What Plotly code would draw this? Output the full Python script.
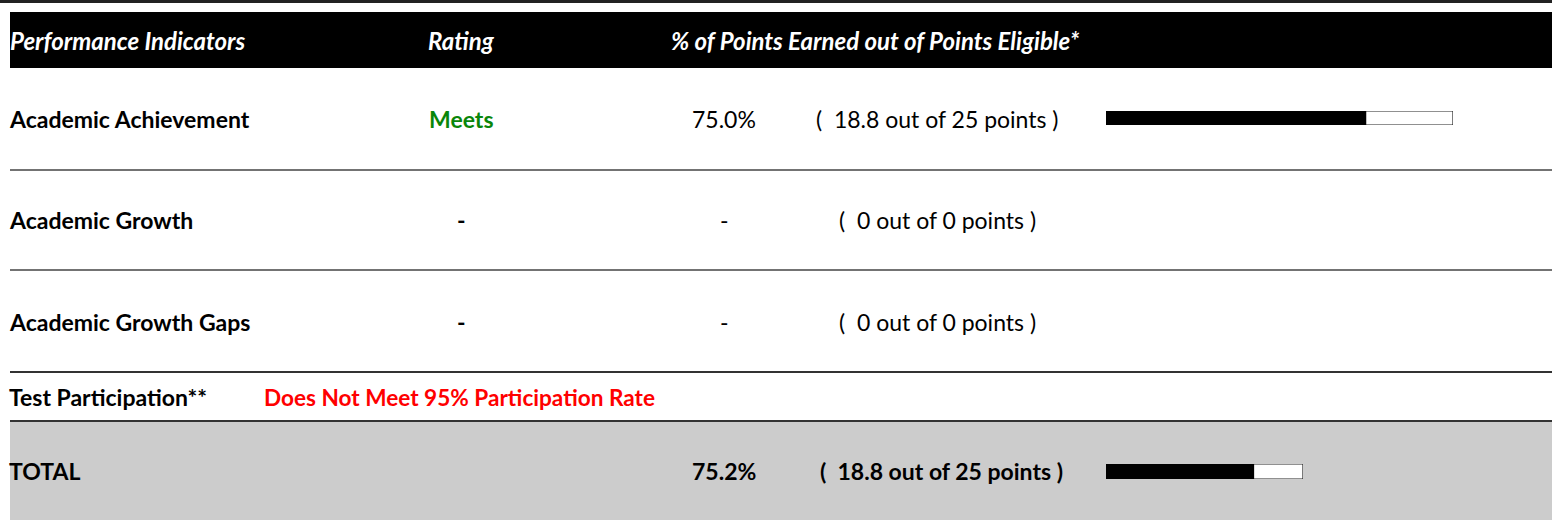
import plotly.graph_objects as go

# ---------------- data ----------------
header_labels = ["Performance Indicators", "Rating", "% of Points Earned out of Points Eligible*"]
indicators = ["Academic Achievement", "Academic Growth", "Academic Growth Gaps"]
ratings = ["Meets", "-", "-"]
rating_colors = ["#0a860a", "#000000", "#000000"]
pct_values = [75.0, None, None]
points_earned = [18.8, 0, 0]
points_eligible = [25, 0, 0]
participation_label = "Test Participation**"
participation_rating = "Does Not Meet 95% Participation Rate"
total_label = "TOTAL"
total_pct = 75.2
total_earned = 18.8
total_eligible = 25

# ---------------- layout constants ----------------
W, H = 1552, 520
FONT = "Lato"
FS = 23
HFS = 24
row_y = [119, 220, 322]
part_y = 397
total_y = 471
col_x = {"ind": 7, "rating": 461, "pct": 724, "pts": 937}

fig = go.Figure()

annotations = []
def txt(x, y, s, color="#000", bold=False, italic=False, anchor="left", size=FS):
    t = s
    if bold:
        t = "<b>" + t + "</b>"
    if italic:
        t = "<i>" + t + "</i>"
    annotations.append(dict(x=x, y=y, xref="x", yref="y", text=t, showarrow=False,
                            xanchor=anchor, yanchor="middle",
                            font=dict(family=FONT, size=size, color=color)))

# header
txt(8, 40, header_labels[0], "#fff", True, True, size=HFS)
txt(col_x["rating"], 40, header_labels[1], "#fff", True, True, "center", size=HFS)
txt(669, 40, header_labels[2], "#fff", True, True, size=HFS)

def fmt(v):
    return f"{v:g}"

for i, name in enumerate(indicators):
    y = row_y[i]
    txt(col_x["ind"], y, name, bold=True)
    txt(col_x["rating"], y, ratings[i], rating_colors[i], bold=True, anchor="center")
    p = pct_values[i]
    txt(col_x["pct"], y, "-" if p is None else f"{p:.1f}%", anchor="center")
    txt(col_x["pts"], y, f"(  {fmt(points_earned[i])} out of {fmt(points_eligible[i])} points )", anchor="center")

txt(col_x["ind"], part_y, participation_label, bold=True)
txt(262, part_y, participation_rating, "#ff0000", bold=True, size=22.6)

txt(col_x["ind"], total_y, total_label, bold=True)
txt(col_x["pct"], total_y, f"{total_pct:.1f}%", bold=True, anchor="center")
txt(col_x["pts"] + 4, total_y, f"(  {fmt(total_earned)} out of {fmt(total_eligible)} points )", bold=True, anchor="center")

shapes = [
    dict(type="line", x0=0, x1=W, y0=1.5, y1=1.5, xref="x", yref="y", line=dict(color="#222", width=3)),
    dict(type="rect", x0=10, x1=W, y0=12, y1=68, xref="x", yref="y", fillcolor="#000", line_width=0, layer="below"),
    dict(type="rect", x0=10, x1=W, y0=421, y1=H, xref="x", yref="y", fillcolor="#cccccc", line_width=0, layer="below"),
]
for yy, c, w in [(170, "#444", 1.3), (270, "#444", 1.3), (372, "#333", 2), (421, "#333", 2)]:
    shapes.append(dict(type="line", x0=10, x1=W, y0=yy, y1=yy, xref="x", yref="y", line=dict(color=c, width=w)))

# placeholder trace for main axes
fig.add_trace(go.Scatter(x=[0], y=[0], mode="markers", marker=dict(opacity=0), hoverinfo="skip", showlegend=False))

# progress bars
def bar_axes(n, x0, x1, y0, y1):
    return {
        f"xaxis{n}": dict(domain=[x0 / W, x1 / W], range=[0, 100], visible=False, fixedrange=True, anchor=f"y{n}"),
        f"yaxis{n}": dict(domain=[1 - y1 / H, 1 - y0 / H], range=[-0.5, 0.5], visible=False, fixedrange=True, anchor=f"x{n}"),
    }

extra_axes = {}
bars = [(pct_values[0], 2, (1106, 1453, 111, 125)), (total_pct, 3, (1106, 1303, 464, 479))]
for val, n, (x0, x1, y0, y1) in bars:
    extra_axes.update(bar_axes(n, x0, x1, y0, y1))
    fig.add_trace(go.Bar(x=[100], y=[0], orientation="h", width=1, base=0,
                         marker=dict(color="#fff", line=dict(color="#222", width=1.2)),
                         xaxis=f"x{n}", yaxis=f"y{n}", showlegend=False, hoverinfo="skip", cliponaxis=False))
    fig.add_trace(go.Bar(x=[val], y=[0], orientation="h", width=1, base=0,
                         marker=dict(color="#000", line=dict(color="#000", width=0)),
                         xaxis=f"x{n}", yaxis=f"y{n}", showlegend=False, hoverinfo="skip", cliponaxis=False))

fig.update_layout(
    width=W, height=H, margin=dict(l=0, r=0, t=0, b=0),
    paper_bgcolor="#fff", plot_bgcolor="rgba(0,0,0,0)",
    xaxis=dict(range=[0, W], visible=False, fixedrange=True, domain=[0, 1]),
    yaxis=dict(range=[H, 0], visible=False, fixedrange=True, domain=[0, 1]),
    barmode="overlay",
    annotations=annotations, shapes=shapes, showlegend=False,
    **extra_axes,
)

fig.write_html("out.html", config={"displayModeBar": False},
               post_script="document.body.style.margin='0';document.body.style.padding='0';")
